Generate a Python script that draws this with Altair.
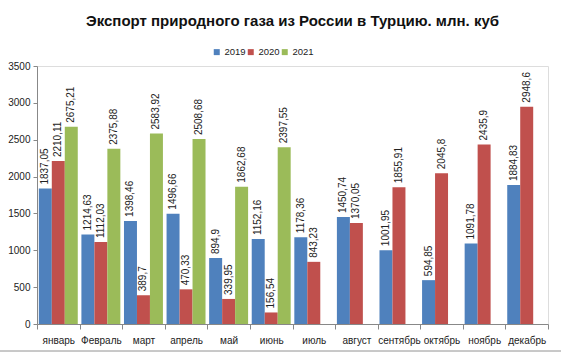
import altair as alt
import pandas as pd

months = ["январь", "Февраль", "март", "апрель", "май", "июнь", "июль",
          "август", "сентябрь", "октябрь", "ноябрь", "декабрь"]
years = ["2019", "2020", "2021"]
v2019 = [1837.05, 1214.63, 1398.46, 1496.66, 894.9, 1152.16, 1178.36,
         1450.74, 1001.95, 594.85, 1091.78, 1884.83]
v2020 = [2210.11, 1112.03, 389.7, 470.33, 339.95, 156.54, 843.23,
         1370.05, 1855.91, 2045.8, 2435.9, 2948.6]
v2021 = [2675.21, 2375.88, 2583.92, 2508.68, 1862.68, 2397.55]
colors = ["#4F81BD", "#C0504D", "#9BBB59"]

rows = []
for series, yr in zip([v2019, v2020, v2021], years):
    for m, v in zip(months, series):
        rows.append({"month": m, "year": yr, "value": v,
                     "label": f"{v:g}".replace(".", ",")})
df = pd.DataFrame(rows)

FONT = "Liberation Sans"

x = alt.X("month:N", sort=months, title=None,
          scale=alt.Scale(paddingInner=0, paddingOuter=0),
          axis=alt.Axis(labelAngle=0, tickBand="extent", labelFontSize=10,
                        labelColor="#222", tickColor="#888", domainColor="#888",
                        tickSize=5, labelPadding=6, labelFont=FONT,
                        labelOverlap=False))
xo = alt.XOffset("year:N", sort=years,
                 scale=alt.Scale(paddingInner=0, paddingOuter=0.14))
y = alt.Y("value:Q", title=None,
          scale=alt.Scale(domain=[0, 3500], nice=False),
          axis=alt.Axis(values=list(range(0, 3501, 500)), grid=False, format="d",
                        labelFontSize=10, labelColor="#222", tickColor="#888",
                        domainColor="#888", tickSize=4, labelPadding=3,
                        labelFont=FONT))

bars = alt.Chart(df).mark_bar().encode(
    x=x, xOffset=xo, y=y,
    color=alt.Color("year:N", sort=years,
                    scale=alt.Scale(domain=years, range=colors),
                    legend=alt.Legend(title=None, orient="none", direction="horizontal",
                                      legendX=175, legendY=-19, symbolType="square",
                                      symbolSize=36, labelFontSize=9.5,
                                      labelFont=FONT, labelColor="#222",
                                      columnPadding=0, labelOffset=3,
                                      symbolStrokeWidth=0)),
)

labels = alt.Chart(df).mark_text(angle=270, align="left", baseline="middle",
                                 dx=4, fontSize=10, font=FONT, color="#222").encode(
    x=x, xOffset=xo, y=y, text="label:N"
)

border = alt.Chart(df).mark_rule(color="#c8c8c8", strokeWidth=1).encode(
    x=alt.value(-37), x2=alt.value(524), y=alt.value(285)
)

chart = (bars + labels + border).properties(
    width=511, height=258,
    title=alt.TitleParams("Экспорт природного газа из России в Турцию. млн. куб",
                          font=FONT, fontSize=15, fontWeight="bold", color="#111",
                          anchor="middle", offset=18),
    padding={"left": 37, "top": 66, "right": 13, "bottom": 29},
    autosize=alt.AutoSizeParams(type="none"),
).configure_view(stroke=None).configure(background="white")

chart.save("out.html", embed_options={"renderer": "svg", "actions": False})
